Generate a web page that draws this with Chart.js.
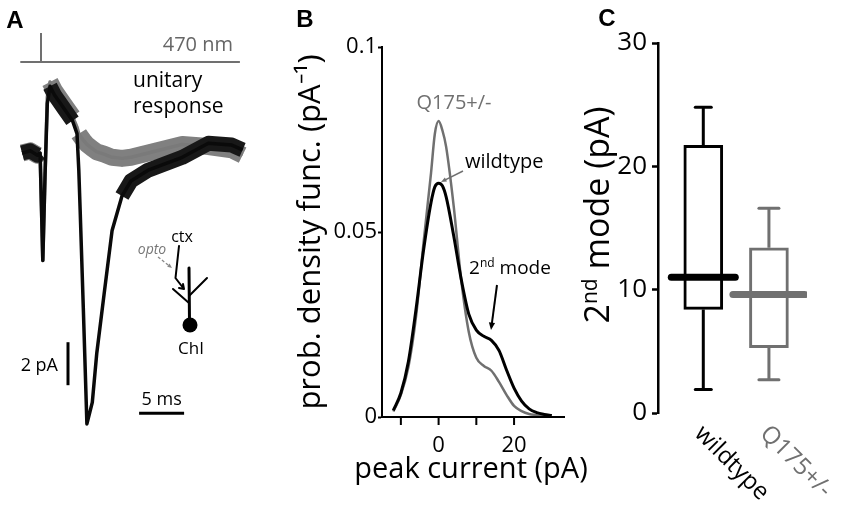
<!DOCTYPE html>
<html>
<head>
<meta charset="utf-8">
<script src="https://cdn.jsdelivr.net/npm/chart.js@4.4.1/dist/chart.umd.min.js"></script>
<style>
  html, body { margin: 0; padding: 0; background: #fff; }
  #wrap { position: relative; width: 850px; height: 512px; overflow: hidden; background: #fff; }
  canvas { position: absolute; top: 0; }
</style>
</head>
<body>
<div id="wrap">
  <canvas id="panelA" width="260" height="512" style="left:0"></canvas>
  <canvas id="panelB" width="320" height="512" style="left:280px"></canvas>
  <canvas id="panelC" width="280" height="512" style="left:570px"></canvas>
</div>
<script>
// ---- data ----

// A: unitary responses, time (ms) from light onset, current (pA)
var traceTime = [-2.1, -1.2, -0.4, -0.1, 0.05, 0.2, 0.45, 0.7, 1.0, 1.5, 2.5, 3.5, 4.0, 4.2,
                 4.35, 4.7, 5.1, 5.7, 6.2, 7.0, 7.9, 9.0, 10.0, 11.9, 15.7, 18.6, 21.2, 22.4];
var wildtypeTrace = [0, 0.1, -0.1, 0, -2.5, -5.0, -1.0, 2.3, 3.1, 2.7, 2.1, 1.5, 0.9, -0.8,
                     -2.65, -7.2, -12.6, -11.6, -9.3, -6.6, -3.6, -2.0, -1.3, -0.8, -0.2, 0.45, 0.37, 0.15];
var q175Trace = [0, 0.1, -0.1, 0, -2.5, -5.0, -1.0, 2.6, 3.3, 2.9, 2.3, 1.7, 1.2, 0.9,
                 0.8, 0.6, 0.4, 0.2, 0.05, -0.05, -0.2, -0.25, -0.2, 0.0, 0.4, 0.3, 0.15, -0.1];
var stimWindow = [-2.3, 22.1];   // ms, light bar
var stimOnset = 0;
var scaleBarMs = 5;
var scaleBarPA = 2;

// B: probability density of peak current
var pdfCurrent = [-12, -10, -8, -6, -4, -2, -1, 0, 1, 2, 4, 6, 8, 10, 12, 14, 16, 18, 20, 22, 24, 26, 28, 30];
var wildtypePdf = [0.0018, 0.0065, 0.015, 0.029, 0.045, 0.058, 0.0622, 0.0632, 0.0625, 0.0595, 0.049, 0.0372,
                   0.0278, 0.0235, 0.0218, 0.0207, 0.018, 0.0127, 0.0078, 0.0043, 0.0022, 0.0012, 0.0007, 0.0004];
var q175Pdf = [0.0015, 0.006, 0.0135, 0.027, 0.047, 0.066, 0.0765, 0.080, 0.0775, 0.073, 0.057, 0.037,
               0.023, 0.016, 0.0138, 0.0125, 0.0095, 0.006, 0.003, 0.0016, 0.0008, 0.0005, 0.0002, 0.0001];
var currentTicks = [-10, 0, 10, 20];
var currentTickLabels = [0, 20];

// C: 2nd mode amplitude box plots
var groups = ['wildtype', 'Q175+/-'];
var whiskerLow = [1.9, 2.7];
var boxLow = [8.4, 5.3];
var medians = [11.0, 9.6];
var boxHigh = [21.7, 13.4];
var whiskerHigh = [24.8, 16.6];

// ---- styles ----
var FONT = '"Open Sans", "Liberation Sans", sans-serif';
var BOLD = 'bold 24px "Liberation Sans", Arial, sans-serif';
var BLACK = '#000000';
var GRAY = '#707070';
var groupColors = [BLACK, GRAY];

Chart.defaults.font.family = FONT;
Chart.defaults.color = BLACK;
Chart.defaults.animation = false;
Chart.defaults.devicePixelRatio = 1;
Chart.defaults.plugins.legend.display = false;
Chart.defaults.plugins.tooltip.enabled = false;

function txt(ctx, s, x, y, font, color, align) {
    ctx.font = font;
    ctx.fillStyle = color || BLACK;
    ctx.textAlign = align || 'center';
    ctx.textBaseline = 'middle';
    ctx.fillText(s, x, y);
}

function arrow(ctx, x0, y0, x1, y1, color, w, head) {
    var a = Math.atan2(y1 - y0, x1 - x0);
    ctx.strokeStyle = color;
    ctx.fillStyle = color;
    ctx.lineWidth = w;
    ctx.beginPath();
    ctx.moveTo(x0, y0);
    ctx.lineTo(x1 - Math.cos(a) * head * 0.8, y1 - Math.sin(a) * head * 0.8);
    ctx.stroke();
    ctx.setLineDash([]);
    ctx.beginPath();
    ctx.moveTo(x1, y1);
    ctx.lineTo(x1 - head * Math.cos(a - 0.4), y1 - head * Math.sin(a - 0.4));
    ctx.lineTo(x1 - head * Math.cos(a + 0.4), y1 - head * Math.sin(a + 0.4));
    ctx.closePath();
    ctx.fill();
}

// text with a superscript piece: parts = [[text, size, raise], ...]
function supText(ctx, parts, x, y, color) {
    var total = 0;
    parts.forEach(function (p) { ctx.font = p[1] + 'px ' + FONT; total += ctx.measureText(p[0]).width; });
    var cx = x - total / 2;
    ctx.fillStyle = color;
    ctx.textAlign = 'left';
    ctx.textBaseline = 'alphabetic';
    parts.forEach(function (p) {
        ctx.font = p[1] + 'px ' + FONT;
        ctx.fillText(p[0], cx, y - p[2]);
        cx += ctx.measureText(p[0]).width;
    });
}

// noisy sweeps: thin core line plus a wide band on the flat stretches only
function flatOnly(color) {
    return {
        borderColor: function (c) {
            var dx = Math.max(0.5, Math.abs(c.p1.x - c.p0.x));
            return Math.abs(c.p1.y - c.p0.y) / dx < 2 ? color : 'rgba(0,0,0,0)';
        }
    };
}

function sweep(values) {
    return traceTime.map(function (t, i) { return { x: t, y: values[i] }; });
}

// ---------------- Panel A ----------------
var decorA = {
    id: 'decorA',
    afterDraw: function (chart) {
        var ctx = chart.ctx, x = chart.scales.x, y = chart.scales.y;
        ctx.save();
        txt(ctx, 'A', 15, 21, BOLD, BLACK);

        // light stimulus
        var sy = 62;
        ctx.strokeStyle = GRAY;
        ctx.lineWidth = 2;
        ctx.beginPath();
        ctx.moveTo(x.getPixelForValue(stimWindow[0]), sy);
        ctx.lineTo(x.getPixelForValue(stimWindow[1]), sy);
        ctx.moveTo(x.getPixelForValue(stimOnset), 33);
        ctx.lineTo(x.getPixelForValue(stimOnset), sy);
        ctx.stroke();
        txt(ctx, '470 nm', 233, 45, '20px ' + FONT, '#666', 'right');
        txt(ctx, 'unitary', 133, 81, '21px ' + FONT, BLACK, 'left');
        txt(ctx, 'response', 133, 107, '21px ' + FONT, BLACK, 'left');

        // scale bars
        ctx.strokeStyle = BLACK;
        ctx.lineWidth = 3;
        var t0 = 10.9, tb = -12.1;
        var bx0 = x.getPixelForValue(t0), bx1 = x.getPixelForValue(t0 + scaleBarMs), by = y.getPixelForValue(tb);
        ctx.beginPath(); ctx.moveTo(bx0, by); ctx.lineTo(bx1, by); ctx.stroke();
        txt(ctx, '5 ms', (bx0 + bx1) / 2, 400, '18px ' + FONT, BLACK);
        var vx = x.getPixelForValue(3.0), vy0 = y.getPixelForValue(-8.8), vy1 = y.getPixelForValue(-8.8 - scaleBarPA);
        ctx.beginPath(); ctx.moveTo(vx, vy0); ctx.lineTo(vx, vy1); ctx.stroke();
        txt(ctx, '2 pA', 58, 366, '18px ' + FONT, BLACK, 'right');

        // cortical input onto ChI cartoon
        txt(ctx, 'ctx', 182, 237, '16px ' + FONT, BLACK);
        txt(ctx, 'opto', 152, 250, 'italic 14px ' + FONT, '#777');
        ctx.setLineDash([3, 2]);
        arrow(ctx, 158, 257, 172, 268, '#888', 1.3, 5);
        ctx.strokeStyle = BLACK;
        ctx.fillStyle = BLACK;
        ctx.lineCap = 'round';
        ctx.lineWidth = 2;
        ctx.beginPath();
        ctx.moveTo(179, 246); ctx.lineTo(175.5, 278); ctx.lineTo(184, 289);
        ctx.moveTo(184, 289); ctx.lineTo(183, 284);
        ctx.moveTo(184, 289); ctx.lineTo(179, 288);
        ctx.stroke();
        ctx.lineWidth = 3;
        ctx.beginPath(); ctx.moveTo(189, 268); ctx.lineTo(189.5, 322); ctx.stroke();
        ctx.lineWidth = 2;
        ctx.beginPath();
        ctx.moveTo(189, 296); ctx.lineTo(207, 278);
        ctx.moveTo(189, 303); ctx.lineTo(173, 289);
        ctx.stroke();
        ctx.beginPath(); ctx.arc(190, 325, 7.5, 0, Math.PI * 2); ctx.fill();
        txt(ctx, 'ChI', 191, 349, '17px ' + FONT, BLACK);
        ctx.restore();
    }
};

new Chart(document.getElementById('panelA'), {
    type: 'line',
    data: {
        datasets: [
            { data: sweep(wildtypeTrace), borderColor: '#0a0a0a', borderWidth: 3.5, pointRadius: 0, tension: 0, order: 0, borderJoinStyle: 'round' },
            { data: sweep(wildtypeTrace), borderWidth: 15, pointRadius: 0, tension: 0, order: 1, borderJoinStyle: 'round', segment: flatOnly('#181818') },
            { data: sweep(q175Trace), borderColor: '#7a7a7a', borderWidth: 3.5, pointRadius: 0, tension: 0, order: 2, borderJoinStyle: 'round' },
            { data: sweep(q175Trace), borderWidth: 17, pointRadius: 0, tension: 0, order: 3, borderJoinStyle: 'round', segment: flatOnly('#808080') }
        ]
    },
    options: {
        responsive: false,
        events: [],
        layout: { padding: 0 },
        scales: {
            x: { type: 'linear', display: false, min: -41 / 9, max: (260 - 41) / 9 },
            y: { display: false, min: -(512 - 153) / 21.5, max: 153 / 21.5 }
        }
    },
    plugins: [decorA]
});

// ---------------- Panel B ----------------
var decorB = {
    id: 'decorB',
    afterDraw: function (chart) {
        var ctx = chart.ctx, o = 280, x = chart.scales.x, a = chart.chartArea;
        ctx.save();
        // x axis line and tick marks
        ctx.fillStyle = BLACK;
        ctx.fillRect(a.left - 1, a.bottom - 1, a.right - a.left + 1, 2);
        currentTicks.forEach(function (v) {
            var px = x.getPixelForValue(v);
            ctx.fillRect(px - 1, a.bottom, 2, 8);
        });
        txt(ctx, 'peak current (pA)', 471 - o, 470, '29px ' + FONT, BLACK);

        txt(ctx, 'B', 305 - o, 20, BOLD, BLACK);
        txt(ctx, 'Q175+/-', 454 - o, 103, '20px ' + FONT, GRAY);
        txt(ctx, 'wildtype', 465 - o, 162, '20px ' + FONT, BLACK, 'left');
        arrow(ctx, 463 - o, 171, 441 - o, 182, GRAY, 1.5, 6);
        supText(ctx, [['2', 19, 0], ['nd', 12, 7], [' mode', 19, 0]], 510 - o, 274, BLACK);
        arrow(ctx, 497 - o, 285, 491 - o, 330, BLACK, 2, 8);
        ctx.restore();
    }
};

new Chart(document.getElementById('panelB'), {
    type: 'line',
    data: {
        datasets: [
            {
                data: pdfCurrent.map(function (v, i) { return { x: v, y: wildtypePdf[i] }; }),
                borderColor: BLACK, borderWidth: 3, pointRadius: 0, cubicInterpolationMode: 'monotone', order: 0
            },
            {
                data: pdfCurrent.map(function (v, i) { return { x: v, y: q175Pdf[i] }; }),
                borderColor: GRAY, borderWidth: 2.5, pointRadius: 0, cubicInterpolationMode: 'monotone', order: 1
            }
        ]
    },
    options: {
        responsive: false,
        events: [],
        layout: { padding: { top: 47, right: 35, left: 0, bottom: 0 } },
        scales: {
            x: {
                type: 'linear', min: -15, max: 33.5,
                afterFit: function (s) { s.height = 95; },
                ticks: {
                    stepSize: 10, includeBounds: false, maxRotation: 0, padding: 8,
                    font: { size: 22 }, color: BLACK,
                    callback: function (v) { return currentTickLabels.indexOf(v) >= 0 ? String(v) : ''; }
                },
                grid: { display: false },
                border: { display: false }
            },
            y: {
                min: 0, max: 0.1,
                afterFit: function (s) { s.width = 102; },
                ticks: {
                    stepSize: 0.05, padding: 1, font: { size: 22 }, color: BLACK,
                    callback: function (v) { return String(+v.toFixed(2)); }
                },
                grid: { drawOnChartArea: false, tickLength: 4, tickWidth: 2, tickColor: BLACK },
                border: { color: BLACK, width: 2 },
                title: { display: true, text: 'prob. density func. (pA⁻¹)', font: { size: 31 }, color: BLACK, padding: { top: 13, bottom: 0 } }
            }
        }
    },
    plugins: [decorB]
});

// ---------------- Panel C ----------------
var decorC = {
    id: 'decorC',
    beforeDatasetsDraw: function (chart) { chart.ctx.lineCap = 'round'; },
    afterDraw: function (chart) {
        var ctx = chart.ctx, o = 570, x = chart.scales.x;
        ctx.save();
        txt(ctx, 'C', 607 - o, 19, BOLD, BLACK);
        ctx.save();
        ctx.translate(598 - o + 11, 215);
        ctx.rotate(-Math.PI / 2);
        supText(ctx, [['2', 34, 0], ['nd', 21, 12], [' mode (pA)', 34, 0]], 0, 0, BLACK);
        ctx.restore();
        groups.forEach(function (g, i) {
            ctx.save();
            ctx.translate(x.getPixelForValue(i) - 5, 430);
            ctx.rotate(Math.PI / 4);
            txt(ctx, g, 0, 0, '24px ' + FONT, groupColors[i], 'left');
            ctx.restore();
        });
        ctx.restore();
    }
};

new Chart(document.getElementById('panelC'), {
    data: {
        datasets: [
            {
                type: 'scatter',
                data: groups.map(function (g, i) { return { x: i, y: medians[i] }; }),
                pointStyle: 'line', pointRadius: [32, 36], pointBorderWidth: 7,
                pointBorderColor: groupColors, order: 0
            },
            {
                type: 'scatter',
                data: [].concat.apply([], groups.map(function (g, i) {
                    return [{ x: i, y: whiskerLow[i] }, { x: i, y: whiskerHigh[i] }];
                })),
                pointStyle: 'line', pointRadius: [8, 8, 10, 10], pointBorderWidth: 3,
                pointBorderColor: [BLACK, BLACK, GRAY, GRAY], order: 1
            },
            {
                type: 'bar',
                data: groups.map(function (g, i) { return { x: i, y: [boxLow[i], boxHigh[i]] }; }),
                backgroundColor: '#ffffff', borderColor: groupColors, borderWidth: 3,
                borderSkipped: false, barThickness: 39, order: 2
            }
        ].concat(groups.map(function (g, i) {
            return {
                type: 'line',
                data: [{ x: i, y: whiskerLow[i] }, { x: i, y: boxLow[i] }, { x: i, y: null },
                       { x: i, y: boxHigh[i] }, { x: i, y: whiskerHigh[i] }],
                borderColor: groupColors[i], borderWidth: 3, pointRadius: 0, spanGaps: false, order: 3
            };
        }))
    },
    options: {
        responsive: false,
        events: [],
        layout: { padding: { top: 43, right: 10, bottom: 99, left: 0 } },
        scales: {
            x: { type: 'linear', display: false, offset: false, min: -0.69, max: 1.58 },
            y: {
                min: 0, max: 30,
                afterFit: function (s) { s.width = 88; },
                ticks: { stepSize: 10, padding: 5, font: { size: 26 }, color: BLACK },
                grid: { drawOnChartArea: false, tickLength: 6, tickWidth: 2.5, tickColor: BLACK },
                border: { color: BLACK, width: 2.5 }
            }
        }
    },
    plugins: [decorC]
});
</script>
</body>
</html>
